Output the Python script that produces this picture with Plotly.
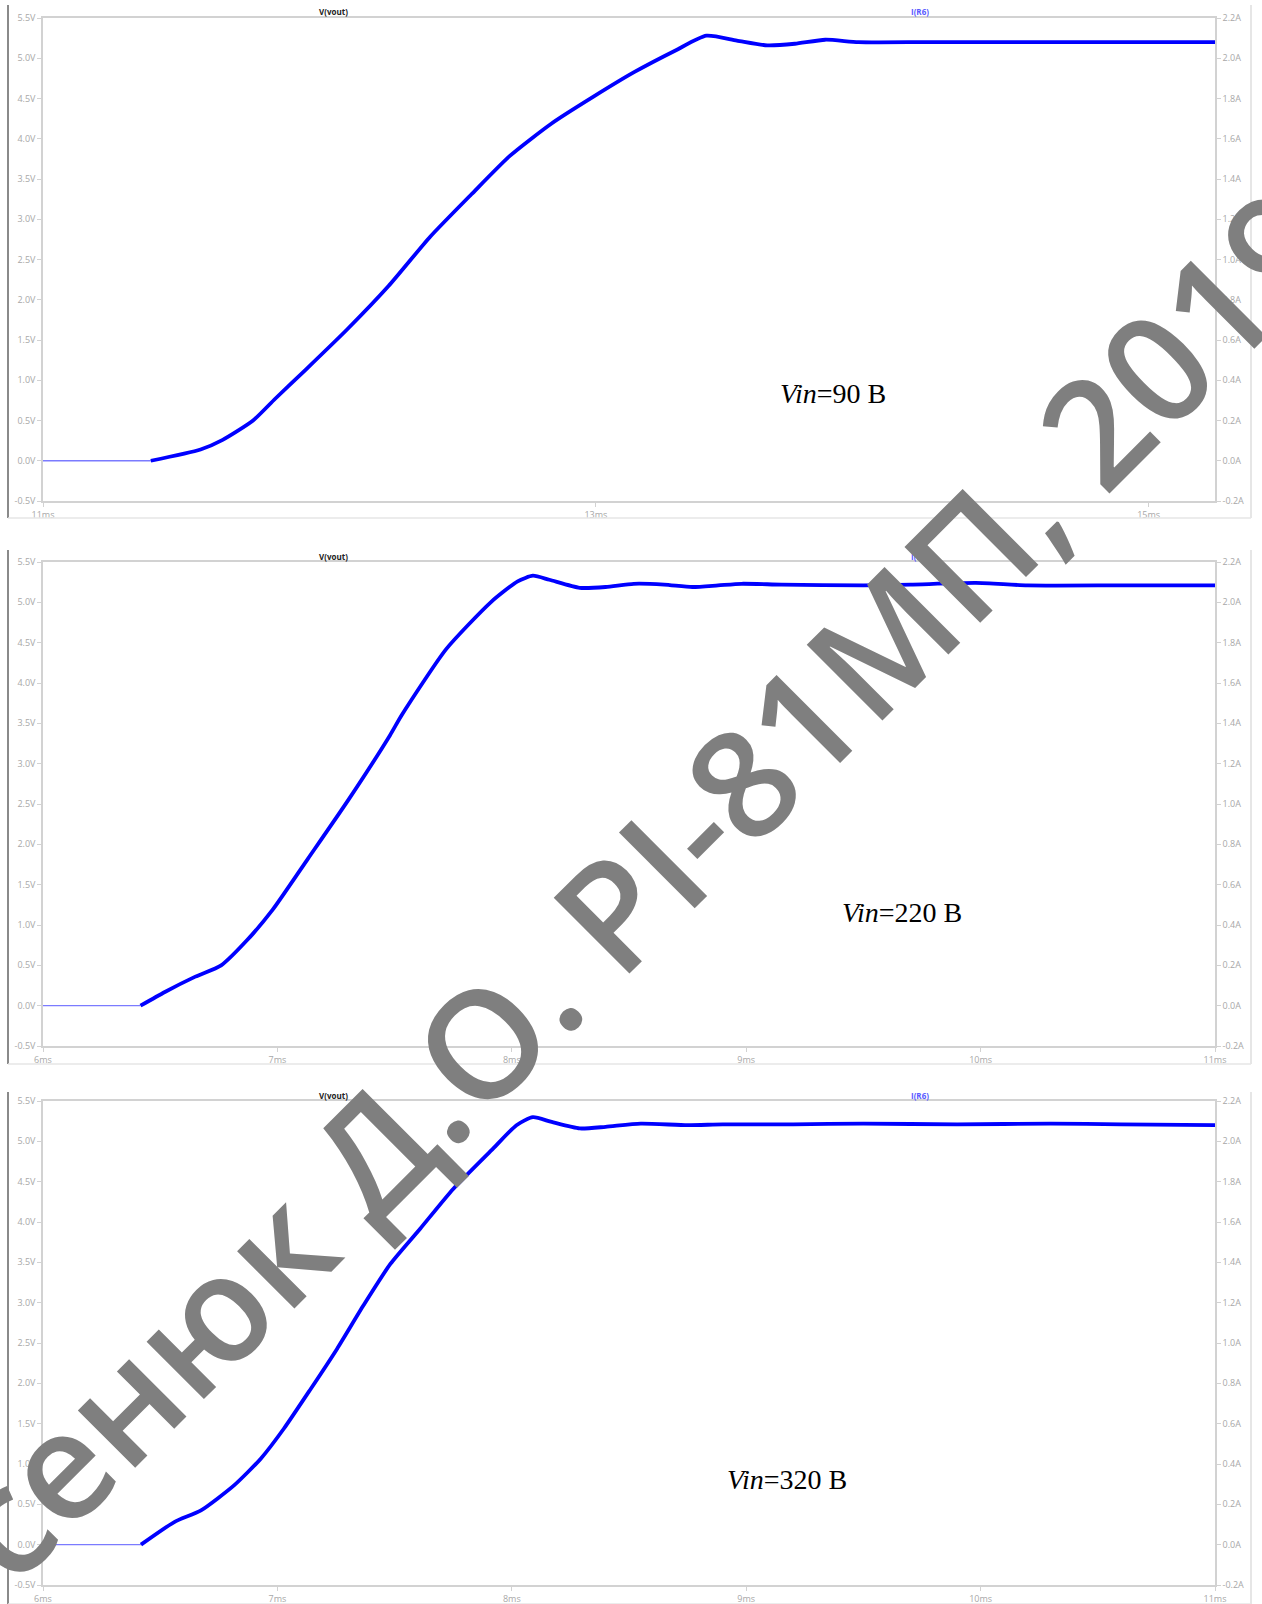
import plotly.graph_objects as go

# ---- data: output voltage V(vout) start-up transients ----
# Vin = 90 V
t_90 = [11.0, 11.39, 11.57, 11.65, 11.76, 11.84, 11.95, 12.10, 12.25, 12.40, 12.55,
        12.69, 12.84, 12.99, 13.14, 13.29, 13.40, 13.51, 13.62, 13.72, 13.83, 13.95,
        14.20, 14.60, 15.00, 15.24]
v_90 = [0.0, 0.0, 0.14, 0.26, 0.50, 0.77, 1.13, 1.63, 2.17, 2.78, 3.31,
        3.79, 4.19, 4.52, 4.83, 5.10, 5.28, 5.22, 5.16, 5.18, 5.23, 5.20,
        5.20, 5.20, 5.20, 5.20]

# Vin = 220 V
t_220 = [6.0, 6.416, 6.52, 6.65, 6.76, 6.87, 6.98, 7.13, 7.305, 7.48, 7.53, 7.72,
         7.91, 8.025, 8.09, 8.16, 8.29, 8.40, 8.52, 8.65, 8.77, 8.88, 8.98, 9.15,
         9.50, 9.70, 9.98, 10.20, 10.60, 11.0]
v_220 = [0.0, 0.0, 0.17, 0.36, 0.50, 0.81, 1.19, 1.82, 2.56, 3.35, 3.60, 4.42,
         5.00, 5.26, 5.33, 5.28, 5.18, 5.19, 5.23, 5.22, 5.19, 5.21, 5.23, 5.22,
         5.21, 5.22, 5.24, 5.21, 5.21, 5.21]

# Vin = 320 V
t_320 = [6.0, 6.418, 6.56, 6.674, 6.815, 6.929, 7.028, 7.142, 7.255, 7.368, 7.482,
         7.61, 7.75, 7.92, 8.02, 8.09, 8.17, 8.29, 8.40, 8.55, 8.75, 8.90, 9.20,
         9.50, 9.90, 10.30, 10.60, 11.0]
v_320 = [0.0, 0.0, 0.28, 0.425, 0.735, 1.066, 1.44, 1.93, 2.43, 2.97, 3.48,
         3.92, 4.41, 4.91, 5.20, 5.30, 5.24, 5.16, 5.18, 5.22, 5.20, 5.21, 5.21,
         5.22, 5.21, 5.22, 5.21, 5.20]

vin_labels = ["90", "220", "320"]

# ---- tick values / labels ----
v_ticks = [-0.5, 0.0, 0.5, 1.0, 1.5, 2.0, 2.5, 3.0, 3.5, 4.0, 4.5, 5.0, 5.5]
a_ticks = [-0.2, 0.0, 0.2, 0.4, 0.6, 0.8, 1.0, 1.2, 1.4, 1.6, 1.8, 2.0, 2.2]
t_ticks_1 = [11, 13, 15]
t_ticks_23 = [6, 7, 8, 9, 10, 11]

W, H = 1262, 1604
BLUE = "#0000ff"
AX = "#d2d2d2"
TXT = "#a8a8a8"


def px(x):
    return x / W


def py(y):
    return 1 - y / H


def note(x, y, text, font, **kw):
    return dict(x=px(x), y=py(y), xref="paper", yref="paper", text=text,
                showarrow=False, xanchor="center", yanchor="middle", font=font, **kw)


# panel geometry (pixels): plot box left/right, top/bottom, frame top/bottom
PLOT_L, PLOT_R = 43, 1215
panels = [
    dict(t=t_90, v=v_90, top=18, bot=501, ftop=5, fbot=518,
         xr=[11.0, 15.24], xt=t_ticks_1, vin=vin_labels[0], lab=(833, 394)),
    dict(t=t_220, v=v_220, top=562, bot=1046, ftop=550, fbot=1064,
         xr=[6.0, 11.0], xt=t_ticks_23, vin=vin_labels[1], lab=(902, 912)),
    dict(t=t_320, v=v_320, top=1101, bot=1585, ftop=1092, fbot=1604,
         xr=[6.0, 11.0], xt=t_ticks_23, vin=vin_labels[2], lab=(787, 1479)),
]

fig = go.Figure()
layout = dict(width=W, height=H, margin=dict(l=0, r=0, t=0, b=0, autoexpand=False),
              paper_bgcolor="white", plot_bgcolor="white", showlegend=False)
annotations = []
shapes = []

tick_font = dict(family="Open Sans", size=9, color=TXT)
common = dict(showgrid=False, zeroline=False, showline=True, automargin=False,
              linecolor=AX, linewidth=1.5, ticks="outside", ticklen=4,
              tickcolor=AX, tickfont=tick_font)

for i, p in enumerate(panels):
    n = i + 1
    xa = "x" if n == 1 else f"x{n}"
    ya = "y" if n == 1 else f"y{2 * n - 1}"
    ya2 = f"y{2 * n}"
    xkey = "xaxis" if n == 1 else f"xaxis{n}"
    ykey = "yaxis" if n == 1 else f"yaxis{2 * n - 1}"
    y2key = f"yaxis{2 * n}"

    # index where the output starts to rise
    k = next(j for j, val in enumerate(p["v"]) if val > 0) - 1

    # idle (thin) part of the trace
    fig.add_trace(go.Scatter(x=p["t"][:k + 1], y=p["v"][:k + 1], mode="lines",
                             line=dict(color="#7b7bff", width=1.4),
                             xaxis=xa, yaxis=ya, hoverinfo="skip"))
    # V(vout)
    fig.add_trace(go.Scatter(x=p["t"][k:], y=p["v"][k:], mode="lines",
                             name="V(vout)",
                             line=dict(color=BLUE, width=3.8, shape="spline",
                                       smoothing=0.6),
                             xaxis=xa, yaxis=ya))
    # I(R6) on the current axis
    fig.add_trace(go.Scatter(x=[], y=[], mode="lines", name="I(R6)",
                             line=dict(color=BLUE), xaxis=xa, yaxis=ya2))

    dom_y = [py(p["bot"]), py(p["top"])]
    layout[xkey] = dict(domain=[px(PLOT_L), px(PLOT_R)], anchor=ya, range=p["xr"],
                        tickvals=p["xt"], ticktext=[f"{v}ms" for v in p["xt"]],
                        mirror=True, **common)
    layout[ykey] = dict(domain=dom_y, anchor=xa, range=[-0.5, 5.5],
                        tickvals=v_ticks, ticktext=[f"{v:.1f}V" for v in v_ticks],
                        **common)
    layout[y2key] = dict(overlaying=ya, anchor=xa, side="right", range=[-0.2, 2.2],
                         tickvals=a_ticks, ticktext=[f"{v:.1f}A" for v in a_ticks],
                         **common)

    # trace names above each plot
    lab_y = p["top"] - 6
    annotations.append(note(333, lab_y, "<b>V(vout)</b>",
                            dict(family="Open Sans", size=8, color="#222222")))
    annotations.append(note(920, lab_y, "<b>I(R6)</b>",
                            dict(family="Open Sans", size=8, color="#5a5aff")))
    # input voltage caption
    annotations.append(note(p["lab"][0], p["lab"][1], f"<i>Vin</i>={p['vin']} В",
                            dict(family="Liberation Serif", size=28, color="black")))

    # window frame of each plot pane
    shapes.append(dict(type="line", xref="paper", yref="paper",
                       x0=px(8), x1=px(8), y0=py(p["ftop"]), y1=py(p["fbot"]),
                       line=dict(color="#8a8a8a", width=2)))
    shapes.append(dict(type="line", xref="paper", yref="paper",
                       x0=px(1251), x1=px(1251), y0=py(p["ftop"]), y1=py(p["fbot"]),
                       line=dict(color="#dedede", width=1.5)))
    shapes.append(dict(type="line", xref="paper", yref="paper",
                       x0=px(8), x1=px(1251), y0=py(p["fbot"]), y1=py(p["fbot"]),
                       line=dict(color="#e6e6e6", width=1.5)))

# author stamp across the page, anchored inside the middle pane
stamp_x = 6 + (571 - PLOT_L) / (PLOT_R - PLOT_L) * 5
stamp_y = -0.5 + (1046 - 950) / (1046 - 562) * 6
annotations.append(dict(x=stamp_x, y=stamp_y, xref="x2", yref="y3",
                        text="Арсенюк Д.О. РІ-81МП, 2019", showarrow=False,
                        xanchor="center", yanchor="middle", textangle=-45,
                        font=dict(family="Open Sans", size=150, color="#7f7f7f",
                                  weight=600)))

layout["annotations"] = annotations
layout["shapes"] = shapes
fig.update_layout(**layout)

fig.write_html("out.html")
